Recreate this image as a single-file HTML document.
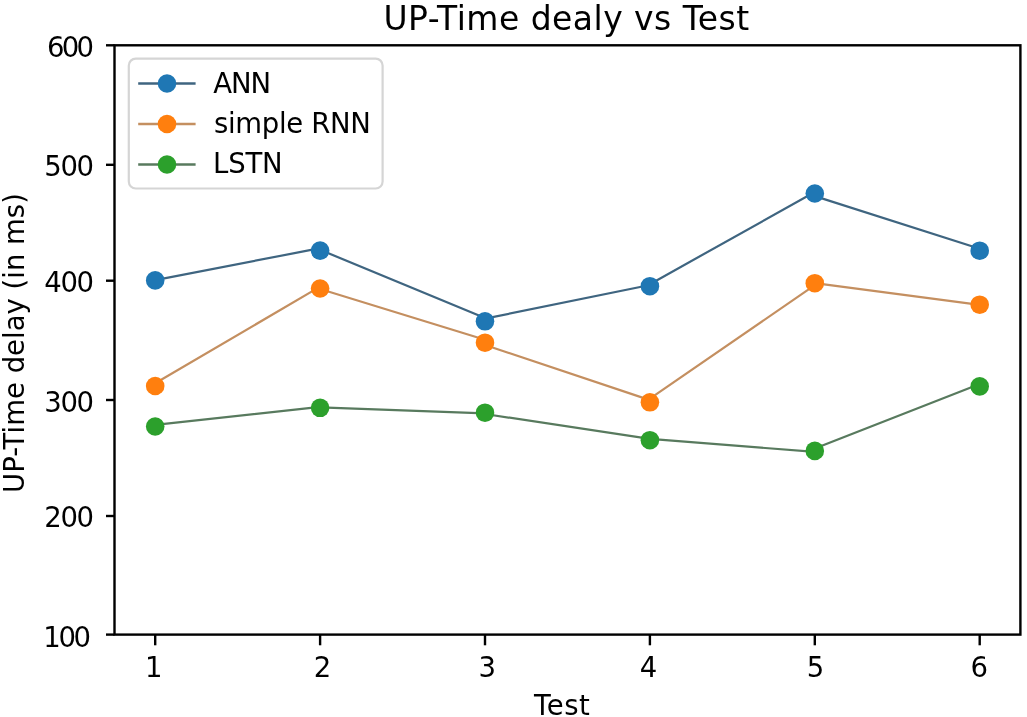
<!DOCTYPE html>
<html>
<head>
<meta charset="utf-8">
<title>UP-Time dealy vs Test</title>
<style>
html,body{margin:0;padding:0;background:#fff;}
body{width:1027px;height:717px;overflow:hidden;}
svg{display:block;}
text{font-family:"DejaVu Sans","Liberation Sans",sans-serif;fill:#000;}
</style>
</head>
<body>
<svg width="1027" height="717" viewBox="0 0 1027 717">
<rect x="0" y="0" width="1027" height="717" fill="#fff"/>

<!-- title -->
<text x="566.3" y="30.3" font-size="33" text-anchor="middle" textLength="365.7" lengthAdjust="spacing">UP-Time dealy vs Test</text>

<!-- series lines -->
<g fill="none" stroke-width="2.2" stroke-linecap="round">
<line x1="155.2" y1="280.1" x2="320.1" y2="248.2" stroke="#3f6580"/>
<line x1="320.1" y1="249.8" x2="485.0" y2="318.1" stroke="#3f6580"/>
<line x1="485.0" y1="318.6" x2="649.9" y2="285.0" stroke="#3f6580"/>
<line x1="649.9" y1="284.2" x2="814.8" y2="192.0" stroke="#3f6580"/>
<line x1="814.8" y1="196.1" x2="979.7" y2="248.7" stroke="#3f6580"/>
<line x1="155.2" y1="383.3" x2="320.1" y2="286.6" stroke="#c48f60"/>
<line x1="320.1" y1="289.0" x2="485.0" y2="339.7" stroke="#c48f60"/>
<line x1="485.0" y1="345.0" x2="649.9" y2="400.1" stroke="#c48f60"/>
<line x1="649.9" y1="398.7" x2="814.8" y2="285.1" stroke="#c48f60"/>
<line x1="814.8" y1="283.2" x2="979.7" y2="304.8" stroke="#c48f60"/>
<line x1="155.2" y1="424.9" x2="320.1" y2="406.8" stroke="#587a5e"/>
<line x1="320.1" y1="407.4" x2="485.0" y2="413.4" stroke="#587a5e"/>
<line x1="485.0" y1="414.0" x2="649.9" y2="438.9" stroke="#587a5e"/>
<line x1="649.9" y1="438.9" x2="814.8" y2="451.9" stroke="#587a5e"/>
<line x1="814.8" y1="448.6" x2="979.7" y2="384.1" stroke="#587a5e"/>
</g>
<!-- markers -->
<g fill="#1f77b4">
<circle cx="155.2" cy="280.4" r="9.3"/><circle cx="320.1" cy="250.6" r="9.3"/><circle cx="485.0" cy="321.3" r="9.3"/>
<circle cx="649.9" cy="286.2" r="9.3"/><circle cx="814.8" cy="193.5" r="9.3"/><circle cx="979.7" cy="250.7" r="9.3"/>
</g>
<g fill="#ff7f0e">
<circle cx="155.2" cy="386" r="9.3"/><circle cx="320.1" cy="288.5" r="9.3"/><circle cx="485.0" cy="342.7" r="9.3"/>
<circle cx="649.9" cy="402.3" r="9.3"/><circle cx="814.8" cy="283.2" r="9.3"/><circle cx="979.7" cy="304.7" r="9.3"/>
</g>
<g fill="#2ca02c">
<circle cx="155.2" cy="426.5" r="9.3"/><circle cx="320.1" cy="407.8" r="9.3"/><circle cx="485.0" cy="412.7" r="9.3"/>
<circle cx="649.9" cy="440.2" r="9.3"/><circle cx="814.8" cy="450.9" r="9.3"/><circle cx="979.7" cy="386.4" r="9.3"/>
</g>

<!-- legend -->
<rect x="128.8" y="58.6" width="253.8" height="129.9" rx="7" ry="7" fill="#fff" fill-opacity="0.8" stroke="#d5d5d5" stroke-width="2.2"/>
<g stroke-width="2.6">
<line x1="138.2" y1="83.5" x2="195.6" y2="83.5" stroke="#3f6580"/>
<line x1="138.2" y1="124" x2="195.6" y2="124" stroke="#c48f60"/>
<line x1="138.2" y1="164.5" x2="195.6" y2="164.5" stroke="#587a5e"/>
</g>
<circle cx="167" cy="83.5" r="9.3" fill="#1f77b4"/>
<circle cx="167" cy="124" r="9.3" fill="#ff7f0e"/>
<circle cx="167" cy="164.5" r="9.3" fill="#2ca02c"/>
<text x="213.2" y="92.6" font-size="27.5" textLength="57.9" lengthAdjust="spacing">ANN</text>
<text x="213.9" y="132.6" font-size="27.5" textLength="157" lengthAdjust="spacing">simple RNN</text>
<text x="213" y="173.4" font-size="27.5" textLength="69.7" lengthAdjust="spacing">LSTN</text>

<!-- axes spines -->
<rect x="114.5" y="45.3" width="905.9" height="589.3" fill="none" stroke="#000" stroke-width="2.4" stroke-linejoin="miter"/>

<!-- y ticks -->
<g stroke="#000" stroke-width="2.4">
<line x1="106" y1="45.3" x2="114.5" y2="45.3"/>
<line x1="106" y1="164.8" x2="114.5" y2="164.8"/>
<line x1="106" y1="280.7" x2="114.5" y2="280.7"/>
<line x1="106" y1="400" x2="114.5" y2="400"/>
<line x1="106" y1="516" x2="114.5" y2="516"/>
<line x1="106" y1="634.6" x2="114.5" y2="634.6"/>
</g>
<g font-size="27.5" text-anchor="end">
<text x="94" y="56.5" textLength="47" lengthAdjust="spacing">600</text>
<text x="94" y="176" textLength="49.7" lengthAdjust="spacing">500</text>
<text x="94" y="292" textLength="49.7" lengthAdjust="spacing">400</text>
<text x="94" y="411.5" textLength="49.7" lengthAdjust="spacing">300</text>
<text x="94" y="527" textLength="49.7" lengthAdjust="spacing">200</text>
<text x="91" y="646.5" textLength="47.7" lengthAdjust="spacing">100</text>
</g>

<!-- x ticks -->
<g stroke="#000" stroke-width="2.4">
<line x1="155.2" y1="634.6" x2="155.2" y2="645.3"/>
<line x1="320.1" y1="634.6" x2="320.1" y2="645.3"/>
<line x1="485.0" y1="634.6" x2="485.0" y2="645.3"/>
<line x1="649.9" y1="634.6" x2="649.9" y2="645.3"/>
<line x1="814.8" y1="634.6" x2="814.8" y2="645.3"/>
<line x1="979.7" y1="634.6" x2="979.7" y2="645.3"/>
</g>
<g font-size="27.5" text-anchor="middle">
<text x="153.7" y="676.5">1</text>
<text x="322.4" y="676.5">2</text>
<text x="487.3" y="676.5">3</text>
<text x="648.4" y="676.5">4</text>
<text x="815.5" y="676.5">5</text>
<text x="979.3" y="676.5">6</text>
</g>

<!-- axis labels -->
<text x="561.9" y="714.6" font-size="27.5" text-anchor="middle" textLength="56" lengthAdjust="spacing">Test</text>
<text transform="translate(24 343) rotate(-90)" x="0" y="0" font-size="27.5" text-anchor="middle">UP-Time delay (in ms)</text>
</svg>
</body>
</html>
